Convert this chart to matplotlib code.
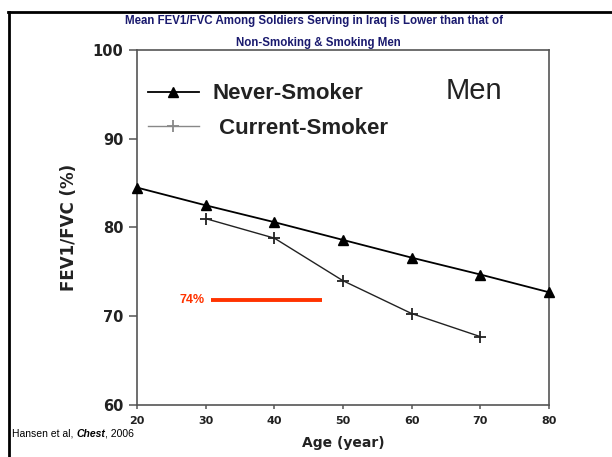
import matplotlib
matplotlib.use("Agg")
import matplotlib.pyplot as plt
from matplotlib.lines import Line2D

# data
never_age = [20, 30, 40, 50, 60, 70, 80]
never_ratio = [84.5, 82.5, 80.6, 78.6, 76.6, 74.7, 72.7]
current_age = [30, 40, 50, 60, 70]
current_ratio = [81.0, 78.8, 74.0, 70.3, 67.7]
x_ticks = [20, 30, 40, 50, 60, 70, 80]
y_ticks = [60, 70, 80, 90, 100]
soldier_level = 71.8
soldier_span = [30.8, 46.9]

navy = "#1a1a6e"
red = "#ff3300"
grey = "#555555"

fig = plt.figure(figsize=(6.12, 4.57), dpi=100)
ax = fig.add_axes([0.2239, 0.1138, 0.6732, 0.7768])

ax.plot(never_age, never_ratio, color="black", lw=1.3, marker="^", ms=7.5,
        mec="black", mfc="black", label="Never-Smoker", clip_on=False, zorder=3)
ax.plot(current_age, current_ratio, color="#222222", lw=1.0, marker="+", ms=9,
        mew=1.3, label=" Current-Smoker", zorder=3)

# red 74% marker line
ax.plot(soldier_span, [soldier_level, soldier_level], color=red, lw=2.8,
        solid_capstyle="butt")
ax.text(soldier_span[0] - 0.9, soldier_level, "74%", color=red, fontsize=9,
        fontweight="bold", ha="right", va="center", family="Liberation Sans")

ax.set_xlim(20, 80)
ax.set_ylim(60, 100)
ax.set_xticks(x_ticks)
ax.set_yticks(y_ticks)
for s in ax.spines.values():
    s.set_color(grey)
    s.set_linewidth(1.2)
ax.tick_params(axis="y", direction="out", length=6, width=1.1, color=grey,
               labelsize=10.5, pad=4)
ax.tick_params(axis="x", direction="out", length=3, width=1.1, color=grey,
               labelsize=8, pad=5)
for lab in ax.get_yticklabels() + ax.get_xticklabels():
    lab.set_fontweight("bold")
    lab.set_color("#222222")

ax.set_xlabel("Age (year)", fontsize=10, fontweight="bold", color="#222222", labelpad=7)
ax.set_ylabel("FEV1/FVC (%)", fontsize=12, fontweight="bold", color="#222222", labelpad=10)

leg = ax.legend(loc="upper left", bbox_to_anchor=(-0.012, 0.95), frameon=False,
                prop={"family": "Liberation Sans", "weight": "bold", "size": 16},
                handlelength=2.3, handletextpad=0.62, labelspacing=0.6,
                borderaxespad=0.3)
leg.get_lines()[1].set_color("#888888")
for t in leg.get_texts():
    t.set_color("#222222")

ax.text(0.75, 0.885, "Men", transform=ax.transAxes, fontsize=21,
        family="Liberation Sans", color="#222222", ha="left", va="center")

# title lines
fig.text(0.513, 0.955, "Mean FEV1/FVC Among Soldiers Serving in Iraq is Lower than that of",
         ha="center", va="center", fontsize=8.3, fontweight="bold", color=navy,
         family="Liberation Sans")
fig.text(0.52, 0.906, "Non-Smoking & Smoking Men", ha="center", va="center",
         fontsize=8.3, fontweight="bold", color=navy, family="Liberation Sans")

# citation
t1 = fig.text(0.02, 0.04, "Hansen et al, ", fontsize=7.5, family="Liberation Sans",
              va="bottom")
a2 = ax.annotate("Chest", xy=(1, 0), xycoords=t1, fontsize=7.5, fontweight="bold",
                 style="italic", family="Liberation Sans", va="bottom",
                 annotation_clip=False)
ax.annotate(", 2006", xy=(1, 0), xycoords=a2, fontsize=7.5, family="Liberation Sans",
            va="bottom", annotation_clip=False)

# slide frame
fig.add_artist(Line2D([0.014, 0.014], [0.0, 0.974], color="black", lw=2))
fig.add_artist(Line2D([0.013, 1.0], [0.974, 0.974], color="black", lw=2))

fig.savefig("out.png", dpi=100)
